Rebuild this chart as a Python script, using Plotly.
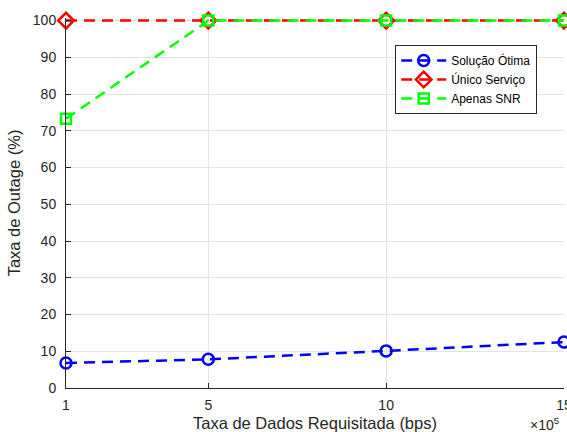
import plotly.graph_objects as go

x_vals = [1, 5, 10, 15]
otima = [6.8, 7.8, 10.1, 12.5]
unico = [100, 100, 100, 100]
snr = [73.3, 100, 100, 100]
x_ticks = [1, 5, 10, 15]
y_ticks = list(range(0, 101, 10))

FONT = "Liberation Sans, Arial"
DASH = "11px,7px"

fig = go.Figure()
fig.add_trace(go.Scatter(x=x_vals, y=otima, name="Solução Ótima", mode="lines+markers",
                         line=dict(color="#0000ff", width=2.5, dash=DASH),
                         marker=dict(symbol="circle-open", size=11, color="#0000ff", line=dict(width=2.5)),
                         cliponaxis=False))
fig.add_trace(go.Scatter(x=x_vals, y=unico, name="Único Serviço", mode="lines+markers",
                         line=dict(color="#ff0000", width=2.5, dash=DASH),
                         marker=dict(symbol="diamond-open", size=12, color="#ff0000", line=dict(width=2.5)),
                         cliponaxis=False))
fig.add_trace(go.Scatter(x=x_vals, y=snr, name="Apenas SNR", mode="lines+markers",
                         line=dict(color="#00ff00", width=2.5, dash=DASH),
                         marker=dict(symbol="square-open", size=10, color="#00ff00", line=dict(width=2.5)),
                         cliponaxis=False))

axis_common = dict(showgrid=True, gridcolor="#e3e3e3", gridwidth=1, showline=True, linecolor="#262626",
                   linewidth=1, ticks="inside", ticklen=5, tickcolor="#262626", zeroline=False,
                   automargin=False, ticklabeloverflow="allow",
                   tickfont=dict(family=FONT, size=14, color="#262626"))
fig.update_xaxes(range=[1, 15], tickvals=x_ticks, ticktext=[str(v) for v in x_ticks],
                 ticklabelstandoff=4,
                 title=dict(text="Taxa de Dados Requisitada (bps)", standoff=6,
                            font=dict(family=FONT, size=16.5, color="#262626")),
                 **axis_common)
fig.update_yaxes(range=[0, 100.7], tickvals=y_ticks, ticklabelstandoff=6,
                 title=dict(text="Taxa de Outage (%)", standoff=8,
                            font=dict(family=FONT, size=16.5, color="#262626")),
                 **axis_common)

fig.add_annotation(x=1.0, y=0, xref="paper", yref="paper", xanchor="right", yanchor="top",
                   yshift=-25, xshift=-2, showarrow=False,
                   text="×10<sup>5</sup>",
                   font=dict(family=FONT, size=14, color="#262626"))

fig.update_layout(
    width=567, height=432,
    margin=dict(l=66, r=3, t=18, b=44, autoexpand=False),
    plot_bgcolor="white", paper_bgcolor="white",
    font=dict(family=FONT, color="#262626"),
    legend=dict(x=0.661, y=0.927, xanchor="left", yanchor="top", bgcolor="white",
                bordercolor="#262626", borderwidth=1,
                font=dict(family=FONT, size=12, color="#000000"),
                tracegroupgap=0, itemwidth=45),
    showlegend=True,
)

fig.write_html("out.html", config={"displayModeBar": False},
               post_script="document.body.style.margin='0';document.body.style.padding='0';")
